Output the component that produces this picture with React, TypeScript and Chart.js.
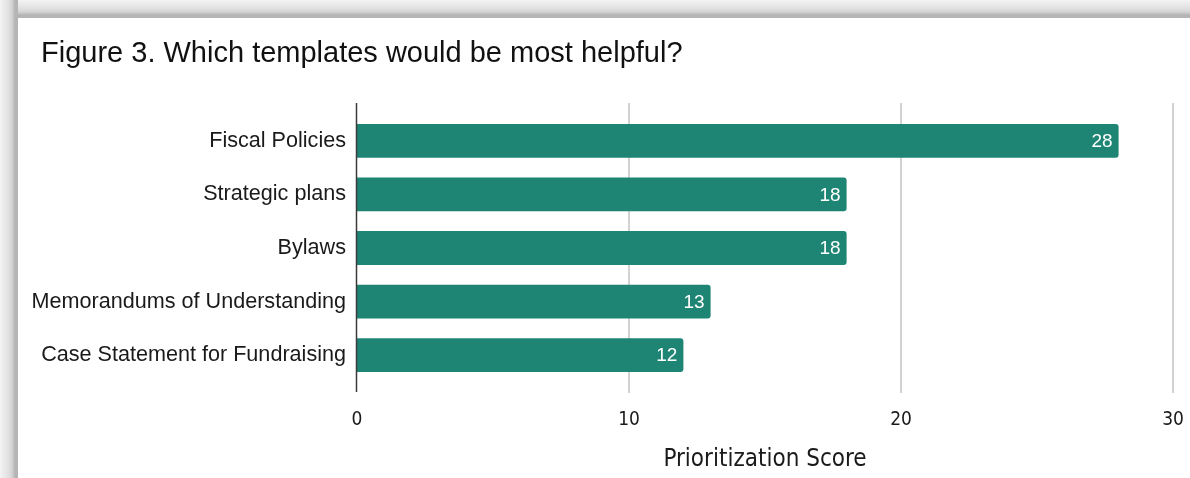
import React, { useEffect, useRef } from "react";
import { Chart, registerables } from "chart.js";

Chart.register(...registerables);

const titleText = "Figure 3. Which templates would be most helpful?";
const categories = [
  "Fiscal Policies",
  "Strategic plans",
  "Bylaws",
  "Memorandums of Understanding",
  "Case Statement for Fundraising",
];
const scores = [28, 18, 18, 13, 12];
const axisTitle = "Prioritization Score";
const xMin = 0;
const xMax = 30;
const xStep = 10;

const BAR_COLOR = "#1e8574";
const AXIS_FONT = "'DejaVu Sans Condensed', 'DejaVu Sans', sans-serif";
const LABEL_FONT = "'Liberation Sans', Arial, sans-serif";

const titlePlugin = {
  id: "leftTitle",
  afterDraw(chart: any) {
    const { ctx } = chart;
    ctx.save();
    ctx.font = "29px " + LABEL_FONT;
    ctx.fillStyle = "#111";
    ctx.textAlign = "left";
    ctx.textBaseline = "middle";
    ctx.fillText(titleText, 23, 36);
    ctx.restore();
  },
};

const gridPlugin = {
  id: "customGrid",
  beforeDatasetsDraw(chart: any) {
    const { ctx, chartArea, scales } = chart;
    const xs = scales.x;
    ctx.save();
    xs.ticks.forEach((t: any) => {
      if (t.value === 0) return;
      const px = Math.round(xs.getPixelForValue(t.value));
      ctx.strokeStyle = "#d2d2d2";
      ctx.lineWidth = 2;
      ctx.beginPath();
      ctx.moveTo(px, chartArea.top - 11);
      ctx.lineTo(px, chartArea.bottom + 11);
      ctx.stroke();
    });
    ctx.restore();
  },
  afterDatasetsDraw(chart: any) {
    const { ctx, chartArea, scales } = chart;
    const xs = scales.x;
    ctx.save();
    const p0 = xs.getPixelForValue(0) - 0.5;
    ctx.strokeStyle = "#3a3a3a";
    ctx.lineWidth = 1.5;
    ctx.beginPath();
    ctx.moveTo(p0, chartArea.top - 11);
    ctx.lineTo(p0, chartArea.bottom + 10);
    ctx.stroke();

    const meta = chart.getDatasetMeta(0);
    ctx.fillStyle = "#ffffff";
    ctx.font = "19px " + LABEL_FONT;
    ctx.textAlign = "right";
    ctx.textBaseline = "middle";
    meta.data.forEach((bar: any, i: number) => {
      ctx.fillText(String(scores[i]), bar.x - 6, bar.y + 1);
    });
    ctx.restore();
  },
};

export default function App() {
  const ref = useRef<HTMLCanvasElement | null>(null);

  useEffect(() => {
    if (!ref.current) return;
    const chart = new Chart(ref.current, {
      type: "bar",
      data: {
        labels: categories,
        datasets: [
          {
            data: scores,
            backgroundColor: BAR_COLOR,
            borderRadius: 3,
            borderSkipped: "start",
            barPercentage: 0.63,
            categoryPercentage: 1,
          },
        ],
      },
      options: {
        indexAxis: "y",
        responsive: false,
        animation: false,
        devicePixelRatio: 1,
        layout: { padding: { left: 4, right: 17, top: 96, bottom: 0 } },
        plugins: {
          legend: { display: false },
          tooltip: { enabled: false },
          title: { display: false },
        },
        scales: {
          y: {
            type: "category",
            grid: { display: false, drawTicks: false },
            border: { display: false },
            ticks: {
              color: "#1a1a1a",
              font: { family: LABEL_FONT, size: 21.6 },
              padding: 11,
            },
            afterFit: (s: any) => {
              s.width = 335;
            },
          },
          x: {
            type: "linear",
            min: xMin,
            max: xMax,
            grid: { display: false, drawTicks: false },
            border: { display: false },
            ticks: {
              stepSize: xStep,
              color: "#1a1a1a",
              font: { family: AXIS_FONT, size: 19 },
              padding: 27,
            },
            title: {
              display: true,
              text: axisTitle,
              color: "#1a1a1a",
              font: { family: AXIS_FONT, size: 24 },
              padding: { top: 0, bottom: 4 },
            },
            afterFit: (s: any) => {
              s.height = 96;
              s.paddingLeft = 0;
              s.paddingRight = 0;
            },
          },
        },
      },
      plugins: [gridPlugin, titlePlugin],
    } as any);
    return () => chart.destroy();
  }, []);

  return (
    <div
      style={{
        position: "absolute",
        left: 0,
        top: 0,
        width: 1190,
        height: 478,
        background: "#ffffff",
        overflow: "hidden",
      }}
    >
      <div
        style={{
          position: "absolute",
          left: 0,
          top: 0,
          width: 1190,
          height: 18,
          background:
            "linear-gradient(to bottom, #f4f4f4 0px, #ececec 3px, #e2e2e2 8px, #d2d2d2 12px, #b4b4b4 15px, #b4b4b4 18px)",
        }}
      />
      <div
        style={{
          position: "absolute",
          left: 0,
          top: 0,
          width: 18,
          height: 478,
          background:
            "linear-gradient(to right, #f4f4f4 0px, #ececec 3px, #e2e2e2 8px, #d2d2d2 12px, #b4b4b4 15px, #b4b4b4 18px)",
        }}
      />
      <canvas
        ref={ref}
        width={1172}
        height={460}
        style={{ position: "absolute", left: 18, top: 18, width: 1172, height: 460 }}
      />
    </div>
  );
}
